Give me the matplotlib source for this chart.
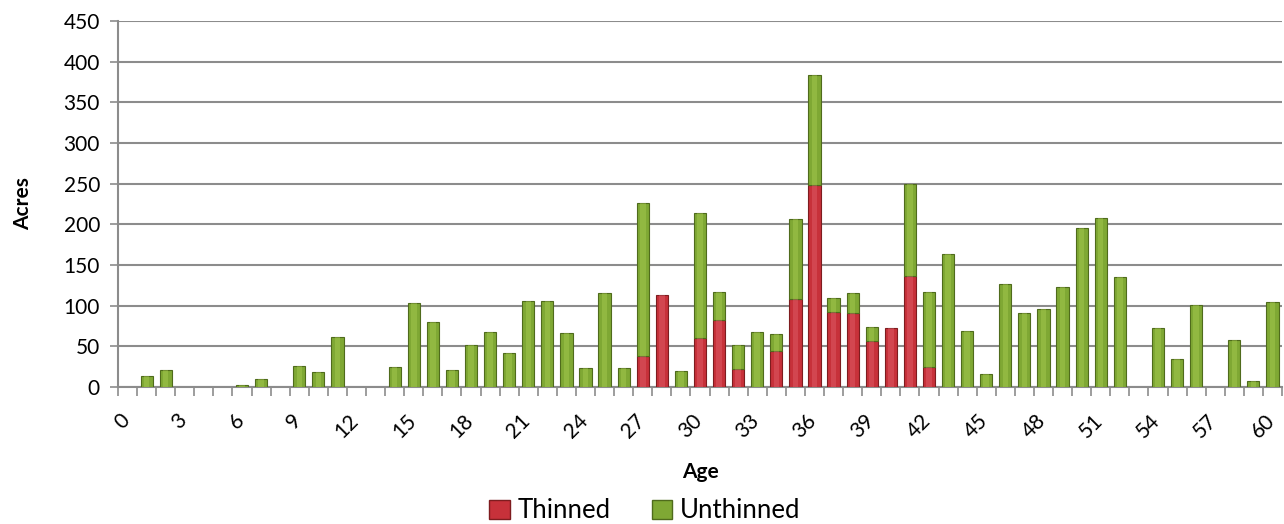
import matplotlib
matplotlib.use("Agg")
from matplotlib import pyplot as plt
from matplotlib import transforms
from matplotlib.patches import Patch
import numpy as np

ages = list(range(0, 61))
thinned = [0, 0, 0, 0, 0, 0, 0, 0, 0, 0,
           0, 0, 0, 0, 0, 0, 0, 0, 0, 0,
           0, 0, 0, 0, 0, 0, 0, 38, 113, 0,
           60, 82, 22, 0, 44, 108, 248, 92, 91, 56,
           73, 137, 25, 0, 0, 0, 0, 0, 0, 0,
           0, 0, 0, 0, 0, 0, 0, 0, 0, 0, 0]
unthinned = [0, 14, 21, 0, 0, 0, 3, 10, 0, 26,
             19, 62, 0, 0, 25, 103, 80, 21, 52, 68,
             42, 106, 106, 67, 23, 116, 23, 188, 0, 20,
             154, 35, 30, 68, 21, 98, 136, 17, 25, 18,
             0, 112, 92, 164, 69, 16, 127, 91, 96, 123,
             195, 208, 135, 0, 72, 35, 101, 0, 58, 7, 105]
yticks = [0, 50, 100, 150, 200, 250, 300, 350, 400, 450]

RED = "#c7313a"
RED_EDGE = "#7e1c1f"
GREEN = "#7fa834"
GREEN_EDGE = "#4f6b1c"


def draw_stack(ax, x, bottom, h, face, edge, hi):
	w = 0.64
	ax.bar(x, h, w, bottom=bottom, color=face, edgecolor=edge, linewidth=0.8, zorder=3)
	# lighter middle strip, rough bevel look
	ax.bar(x, h, w * 0.45, bottom=bottom, color=hi, alpha=0.35, linewidth=0, zorder=4)


def main():
	plt.rcParams['font.family'] = ['Lato', 'DejaVu Sans']
	fig = plt.figure(figsize=(12.84, 5.24), dpi=100)
	ax = fig.add_axes([118 / 1284, 1 - 387 / 524, 1164 / 1284, 366 / 524])

	x = np.array(ages)
	th = np.array(thinned)
	un = np.array(unthinned)
	m = th > 0
	draw_stack(ax, x[m], 0, th[m], RED, RED_EDGE, "#e8707a")
	m2 = un > 0
	draw_stack(ax, x[m2], th[m2], un[m2], GREEN, GREEN_EDGE, "#b5d65a")

	ax.set_xlim(-0.5, 60.5)
	ax.set_ylim(0, 450)
	ax.set_yticks(yticks)
	ax.yaxis.grid(True, color="#8c8c8c", linewidth=1.5, zorder=0)
	ax.set_axisbelow(True)

	for s in ['top', 'right']:
		ax.spines[s].set_visible(False)
	for s in ['left', 'bottom']:
		ax.spines[s].set_color("#8c8c8c")
		ax.spines[s].set_linewidth(1.5)

	ax.tick_params(axis='y', length=6, width=1.2, color="#8c8c8c", labelsize=15, pad=7)
	ax.set_xticks(np.arange(-0.5, 61, 1), minor=True)
	ax.set_xticks(ages[::3])
	ax.set_xticklabels([str(a) for a in ages[::3]], rotation=45, ha='right', va='top', fontsize=15)
	ax.tick_params(axis='x', which='major', length=0, pad=17)
	ax.tick_params(axis='x', which='minor', length=6.5, width=1.2, color="#8c8c8c")
	off = transforms.ScaledTranslation(6 / 100, 0, fig.dpi_scale_trans)
	for lab in ax.get_xticklabels():
		lab.set_transform(lab.get_transform() + off)

	ax.set_xlabel("Age", fontsize=15, fontweight='bold')
	ax.xaxis.set_label_coords(0.5, -0.205)
	ax.set_ylabel("Acres", fontsize=15, fontweight='bold')
	ax.yaxis.set_label_coords(-0.073, 0.5)

	handles = [Patch(facecolor=RED, edgecolor=RED_EDGE, label="Thinned"),
	           Patch(facecolor=GREEN, edgecolor=GREEN_EDGE, label="Unthinned")]
	fig.legend(handles=handles, loc='center', bbox_to_anchor=(645 / 1284, 1 - 511 / 524), ncol=2,
	           frameon=False, fontsize=18.5, handlelength=0.8, handleheight=0.8,
	           handletextpad=0.3, columnspacing=1.6, borderpad=0)

	plt.savefig("out.png", dpi=100)


if __name__ == '__main__':
	main()
